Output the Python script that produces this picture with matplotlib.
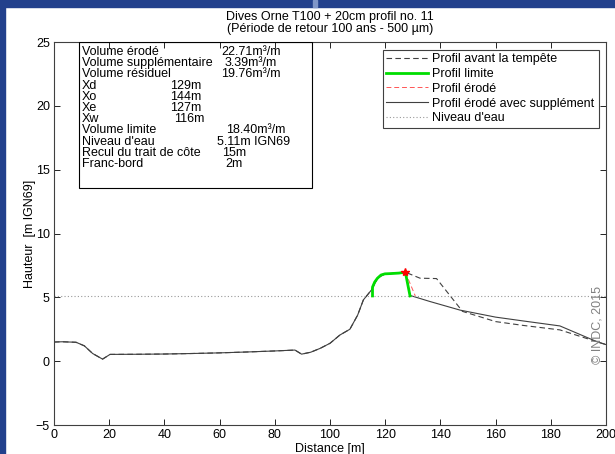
import matplotlib
matplotlib.use("Agg")
import matplotlib.pyplot as plt
from matplotlib.patches import Rectangle

plt.rcParams['font.family'] = ['Liberation Sans', 'DejaVu Sans']
plt.rcParams['font.size'] = 9

# profile before the storm (m, m IGN69)
x_avant = [0, 3, 8, 11, 14, 17.6, 20.3, 30, 40, 50, 60, 70, 80, 87.3, 89.7, 93, 96.4,
           100, 103.6, 107.2, 110, 112.1, 115.1, 117.2, 119.9, 123, 127.3, 132.6, 138.6,
           148, 160, 170, 183.3, 197, 200]
y_avant = [1.5, 1.52, 1.48, 1.2, 0.6, 0.16, 0.53, 0.54, 0.56, 0.6, 0.65, 0.72, 0.8, 0.87,
           0.55, 0.7, 1.0, 1.4, 2.05, 2.5, 3.6, 4.8, 5.6, 6.5, 6.84, 6.88, 6.97, 6.5, 6.47,
           3.9, 3.1, 2.8, 2.45, 1.5, 1.3]

# eroded profile with supplement (same as before up to the dune crest)
x_supp = [0, 3, 8, 11, 14, 17.6, 20.3, 30, 40, 50, 60, 70, 80, 87.3, 89.7, 93, 96.4,
          100, 103.6, 107.2, 110, 112.1, 115.1, 117.2, 119.9, 123, 127.3, 129, 136.1,
          147.1, 160, 170, 183.3, 197, 200]
y_supp = [1.5, 1.52, 1.48, 1.2, 0.6, 0.16, 0.53, 0.54, 0.56, 0.6, 0.65, 0.72, 0.8, 0.87,
          0.55, 0.7, 1.0, 1.4, 2.05, 2.5, 3.6, 4.8, 5.6, 6.5, 6.84, 6.88, 6.97, 5.15, 4.68,
          4.0, 3.45, 3.15, 2.76, 1.5, 1.3]

# eroded profile
x_erode = [127.3, 130.9]
y_erode = [6.97, 5.11]

# limit profile
x_limite = [115.4, 115.4, 116.2, 117.2, 118.5, 119.9, 122, 125, 127.3, 129]
y_limite = [5.11, 5.8, 6.2, 6.5, 6.75, 6.84, 6.86, 6.9, 6.97, 5.11]

x_crest, y_crest = 127.3, 6.97
niveau_eau = 5.11

info_labels = ["Volume érodé", "Volume supplémentaire", "Volume résiduel", "Xd", "Xo", "Xe",
               "Xw", "Volume limite", "Niveau d'eau", "Recul du trait de côte", "Franc-bord"]
info_values = ["22.71m³/m", "3.39m³/m", "19.76m³/m", "129m", "144m", "127m", "116m",
               "18.40m³/m", "5.11m IGN69", "15m", "2m"]
# x of the value column in the info box (pixels)
value_px = [221.7, 225, 220.7, 170, 170, 170, 174, 225.7, 216.7, 222, 225.7]

fig = plt.figure(figsize=(6.15, 4.54), dpi=100)
fig.patch.set_facecolor('white')
blue = '#22408c'
fig.patches.append(Rectangle((0, 0), 5 / 615, 1, transform=fig.transFigure, color=blue, zorder=0))
fig.patches.append(Rectangle((0, 1 - 7 / 454), 1, 7 / 454, transform=fig.transFigure, color=blue, zorder=0))
fig.patches.append(Rectangle((313 / 615, 1 - 7 / 454), 4 / 615, 7 / 454, transform=fig.transFigure,
                             color='#8096c8', zorder=0))

ax_l, ax_r, ax_t, ax_b = 54, 606, 42, 425
ax = fig.add_axes([ax_l / 615, (454 - ax_b) / 454, (ax_r - ax_l) / 615, (ax_b - ax_t) / 454])

ax.plot(x_avant, y_avant, color='#404040', lw=0.8, ls=(0, (5, 3)), label="Profil avant la tempête")
ax.plot(x_limite, y_limite, color='#00dd00', lw=2, label="Profil limite", zorder=4)
ax.plot(x_erode, y_erode, color='#ff5555', lw=0.7, ls=(0, (5, 3)), label="Profil érodé")
ax.plot(x_supp, y_supp, color='#404040', lw=0.8, label="Profil érodé avec supplément")
ax.axhline(niveau_eau, color='#999999', lw=0.8, ls=(0, (1, 2)), label="Niveau d'eau")
ax.plot([x_crest], [y_crest], marker='*', color='red', ms=6, zorder=5)

ax.set_xlim(0, 200)
ax.set_ylim(-5, 25)
ax.set_xticks(range(0, 201, 20))
ax.set_yticks(range(-5, 26, 5))
ax.tick_params(direction='in', top=True, right=True, length=4, width=0.6, labelsize=9, pad=3)
for sp in ax.spines.values():
    sp.set_color('#404040')
    sp.set_linewidth(0.8)

ax.set_xlabel("Distance [m]", fontsize=9, labelpad=1)
ax.set_ylabel("Hauteur  [m IGN69]", fontsize=9, labelpad=0)
ax.set_title("Dives Orne T100 + 20cm profil no. 11\n(Période de retour 100 ans - 500 µm)",
             fontsize=9, pad=7, linespacing=1.0)

leg = ax.legend(loc='upper right', fontsize=9, fancybox=False, framealpha=1, edgecolor='#404040',
                borderaxespad=0.6, handlelength=3.3, handletextpad=0.4, labelspacing=0.22,
                borderpad=0.3)
leg.get_frame().set_linewidth(0.8)

# info box
ax_w, ax_h = ax_r - ax_l, ax_b - ax_t
ax.add_patch(Rectangle(((79 - ax_l) / ax_w, (ax_b - 188) / ax_h), (312 - 79) / ax_w,
                       (188 - ax_t) / ax_h, transform=ax.transAxes,
                       fill=False, edgecolor='black', lw=0.8, zorder=6))
for i, (lab, val, vx) in enumerate(zip(info_labels, info_values, value_px)):
    yy = (ax_b - (50.5 + i * 11.2 + 4.5)) / ax_h
    ax.text((81.7 - ax_l) / ax_w, yy, lab, transform=ax.transAxes, va='baseline', ha='left', fontsize=9)
    ax.text((vx - ax_l) / ax_w, yy, val, transform=ax.transAxes, va='baseline', ha='left', fontsize=9)

ax.text((598 - ax_l) / ax_w, (ax_b - 325) / ax_h, "© INDC, 2015", transform=ax.transAxes,
        rotation=90, ha='center', va='center', fontsize=9, color='#808080')

fig.savefig("out.png", dpi=100)
